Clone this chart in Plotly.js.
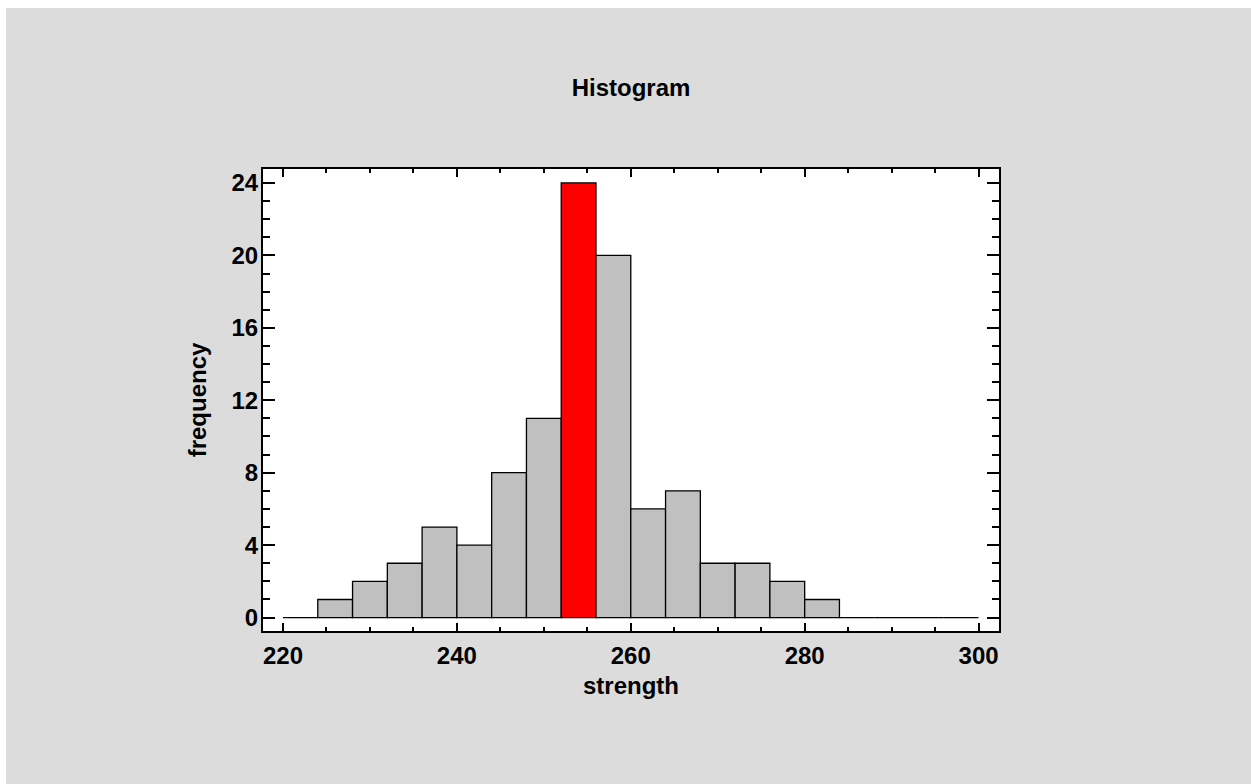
<!DOCTYPE html>
<html>
<head>
<meta charset="utf-8">
<script src="https://cdn.plot.ly/plotly-3.0.1.min.js"></script>
<style>
html,body{margin:0;padding:0;background:#ffffff;}
#chart{position:absolute;left:6px;top:8px;width:1245px;height:776px;}
</style>
</head>
<body>
<div id="chart"></div>
<script>
// Histogram data: bin lower edges (width 4) and counts
const binStarts = [220,224,228,232,236,240,244,248,252,256,260,264,268,272,276,280,284,288,292,296];
const counts    = [0,1,2,3,5,4,8,11,24,20,6,7,3,3,2,1,0,0,0,0];
const binWidth = 4;
const highlightBin = 252;

const centers = binStarts.map(s => s + binWidth/2);
const colors = binStarts.map(s => s === highlightBin ? '#ff0000' : '#c0c0c0');

const F = '"Liberation Sans", Arial, sans-serif';

const trace = {
  type: 'bar',
  x: centers,
  y: counts,
  width: binStarts.map(() => binWidth),
  marker: {color: colors, line: {color: '#000000', width: 1.3}},
  hoverinfo: 'x+y'
};

const layout = {
  width: 1245, height: 776,
  paper_bgcolor: 'rgb(220,220,220)',
  plot_bgcolor: '#ffffff',
  margin: {l: 257, r: 252, t: 161, b: 153, pad: 0},
  showlegend: false,
  title: {
    text: '<b>Histogram</b>',
    font: {family: F, size: 24, color: '#000'},
    x: 0.5, xanchor: 'center', xref: 'paper',
    y: 1 - 80/776, yanchor: 'middle', yref: 'container'
  },
  xaxis: {
    range: [217.7, 302.35],
    showgrid: false, zeroline: false,
    showline: true, linecolor: '#000', linewidth: 2, mirror: 'allticks',
    ticks: 'inside', ticklen: 8, tickwidth: 2, tickcolor: '#000',
    dtick: 20, tick0: 220,
    tickfont: {family: F, size: 24, color: '#000', weight: 'bold'},
    ticklabelstandoff: 2,
    minor: {dtick: 5, tick0: 220, ticks: 'inside', ticklen: 4, tickwidth: 2, tickcolor: '#000', showgrid: false},
    title: {text: '<b>strength</b>', font: {family: F, size: 24, color: '#000'}, standoff: 9}
  },
  yaxis: {
    range: [-0.74, 24.77],
    showgrid: false, zeroline: false,
    showline: true, linecolor: '#000', linewidth: 2, mirror: 'allticks',
    ticks: 'inside', ticklen: 12, tickwidth: 2, tickcolor: '#000',
    dtick: 4, tick0: 0,
    tickfont: {family: F, size: 24, color: '#000', weight: 'bold'},
    ticklabelstandoff: -2,
    minor: {dtick: 1, tick0: 0, ticks: 'inside', ticklen: 7, tickwidth: 2, tickcolor: '#000', showgrid: false},
    title: {text: '<b>frequency</b>', font: {family: F, size: 24, color: '#000'}, standoff: 18}
  },
  bargap: 0
};

Plotly.newPlot('chart', [trace], layout, {displayModeBar: false, staticPlot: true});
</script>
</body>
</html>
